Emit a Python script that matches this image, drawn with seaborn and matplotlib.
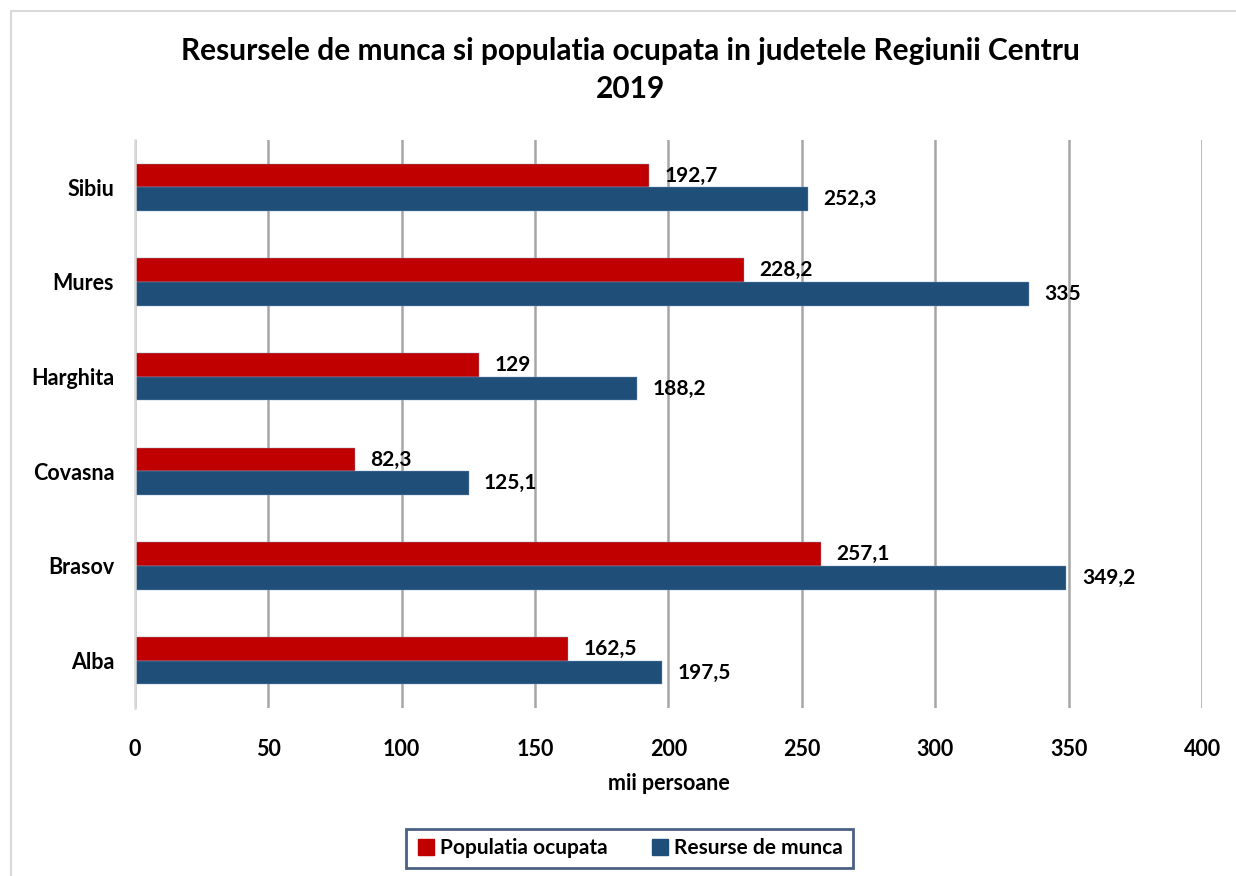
import seaborn as sns
import matplotlib.pyplot as plt
import pandas as pd
from matplotlib.patches import Rectangle
from matplotlib.lines import Line2D

judete = ["Sibiu", "Mures", "Harghita", "Covasna", "Brasov", "Alba"]
populatia_ocupata = [192.7, 228.2, 129, 82.3, 257.1, 162.5]
resurse_munca = [252.3, 335, 188.2, 125.1, 349.2, 197.5]
serii = ["Populatia ocupata", "Resurse de munca"]
culori = {"Populatia ocupata": "#C00000", "Resurse de munca": "#1F4E79"}

df = pd.DataFrame({
    "judet": judete * 2,
    "serie": [serii[0]] * len(judete) + [serii[1]] * len(judete),
    "valoare": populatia_ocupata + resurse_munca,
})

sns.set_style("white")
plt.rcParams['font.family'] = ['Lato', 'DejaVu Sans']
plt.rcParams['text.color'] = 'black'
plt.rcParams['axes.labelcolor'] = 'black'
plt.rcParams['xtick.color'] = 'black'
plt.rcParams['ytick.color'] = 'black'

fig = plt.figure(figsize=(12.36, 8.76), dpi=100)
ax = fig.add_axes([0.1092, 0.1918, 0.8633, 0.6484])

sns.barplot(data=df, y="judet", x="valoare", hue="serie", order=judete,
            hue_order=serii, palette=culori, saturation=1, orient="h", width=0.5,
            edgecolor="#7F9FC4", linewidth=0.3, legend=False, ax=ax)

for cont in ax.containers:
    vals = cont.datavalues
    ax.bar_label(cont, labels=[f"{v:g}".replace(".", ",") for v in vals],
                 padding=11, fontsize=15, fontweight="bold", color="black")

ax.set_xlim(0, 400)
ax.set_ylim(5.5, -0.5)
ax.set_xticks(range(0, 401, 50))
ax.grid(axis="x", color="#A6A6A6", linewidth=1.8)
ax.set_axisbelow(True)
for s in ["top", "right", "bottom"]:
    ax.spines[s].set_visible(False)
ax.spines["left"].set_color("#D9D9D9")
ax.spines["left"].set_linewidth(1.8)
ax.tick_params(axis="both", length=0, labelsize=15.5)
for lbl in ax.get_xticklabels() + ax.get_yticklabels():
    lbl.set_fontweight("bold")
ax.tick_params(axis="y", pad=15)
ax.tick_params(axis="x", pad=22)
ax.set_ylabel("")
ax.set_xlabel("mii persoane", fontsize=15.5, fontweight="bold", labelpad=10)

fig.text(0.51, 0.92, "Resursele de munca si populatia ocupata in judetele Regiunii Centru\n2019",
         ha="center", va="center", fontsize=21.5, fontweight="bold", linespacing=1.45)

handles = [Line2D([0], [0], marker="s", linestyle="", markersize=11,
                  markerfacecolor=culori[s], markeredgecolor=culori[s]) for s in serii]
leg = fig.legend(handles, serii, loc="center", bbox_to_anchor=(0.509, 0.0315),
                 ncol=2, frameon=True, fancybox=False, prop={"size": 15, "weight": "bold"},
                 handletextpad=0.2, columnspacing=2.0, borderpad=0.45, handlelength=1.0)
leg.get_frame().set_edgecolor("#1F3864")
leg.get_frame().set_linewidth(2)

fig.patches.append(Rectangle((0.009, -0.01), 1.1, 0.998, transform=fig.transFigure,
                             fill=False, edgecolor="#D9D9D9", linewidth=1.5))

fig.savefig("out.png", dpi=100)
